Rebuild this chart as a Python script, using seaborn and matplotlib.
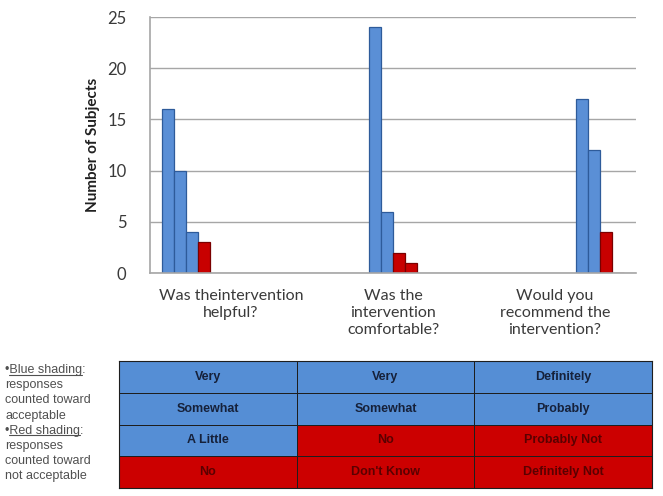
import numpy as np
import pandas as pd
import seaborn as sns
import matplotlib.pyplot as plt
from matplotlib.colors import ListedColormap
from matplotlib.lines import Line2D

# ----------------- data

questions = [
    "Was theintervention\nhelpful?",
    "Was the\nintervention\ncomfortable?",
    "Would you\nrecommend the\nintervention?",
]
response_rank = ["1", "2", "3", "4"]

counts_helpful = [16, 10, 4, 3]
counts_comfortable = [24, 6, 2, 1]
counts_recommend = [17, 12, 4, 0]

# 1 = counted toward acceptable (blue), 0 = not acceptable (red)
acceptable_helpful = [1, 1, 1, 0]
acceptable_comfortable = [1, 1, 0, 0]
acceptable_recommend = [1, 1, 0, 0]

labels_helpful = ["Very", "Somewhat", "A Little", "No"]
labels_comfortable = ["Very", "Somewhat", "No", "Don't Know"]
labels_recommend = ["Definitely", "Probably", "Probably Not", "Definitely Not"]

y_ticks = [0, 5, 10, 15, 20, 25]

BLUE = "#5A8FD6"
BLUE_EDGE = "#2E5B9A"
RED = "#C80000"
RED_EDGE = "#7A0000"
TABLE_BLUE = "#558ED5"
TABLE_RED = "#CC0000"
GRID = "#A6A6A6"
TEXT = "#3A3A3A"

# ----------------- build frames

counts = [counts_helpful, counts_comfortable, counts_recommend]
accept = [acceptable_helpful, acceptable_comfortable, acceptable_recommend]
labels = [labels_helpful, labels_comfortable, labels_recommend]

df = pd.DataFrame(
    [
        {"question": q, "rank": r, "subjects": c}
        for q, cs in zip(questions, counts)
        for r, c in zip(response_rank, cs)
    ]
)

sns.set_theme(style="white")
plt.rcParams["font.family"] = ["Lato", "DejaVu Sans"]

fig = plt.figure(figsize=(6.63, 4.96), dpi=100)

# ----------------- bar chart

ax = fig.add_axes([150 / 663, 223 / 496, 486 / 663, 256 / 496])
sns.barplot(
    data=df, x="question", y="subjects", hue="rank", order=questions,
    hue_order=response_rank, width=0.232, dodge=True, legend=False, ax=ax,
)

# colour each bar by whether that response counted as acceptable
for j, container in enumerate(ax.containers):
    for i, bar in enumerate(container):
        ok = accept[i][j]
        bar.set_facecolor(BLUE if ok else RED)
        bar.set_edgecolor(BLUE_EDGE if ok else RED_EDGE)
        bar.set_linewidth(0.9)

ax.set_xlim(-36 / 207, 2 + 36 / 207)
ax.set_ylim(0, 25)
ax.set_yticks(y_ticks)
ax.yaxis.grid(True, color=GRID, linewidth=1)
ax.set_axisbelow(True)
ax.tick_params(axis="y", length=0, pad=17, labelsize=12, labelcolor=TEXT)
ax.set_xticks([])
ax.set_xlabel("")
ax.set_ylabel("Number of Subjects", fontsize=11, fontweight="bold",
              color="#202020", labelpad=5)
for side in ["top", "right"]:
    ax.spines[side].set_visible(False)
for side in ["left", "bottom"]:
    ax.spines[side].set_color(GRID)
    ax.spines[side].set_linewidth(1.2)

for i, q in enumerate(questions):
    ax.text((i + 0.5) / 3, -16 / 256, q, transform=ax.transAxes,
            ha="center", va="top", fontsize=11.5, color=TEXT, linespacing=1.25)

# ----------------- response table

tab = fig.add_axes([119 / 663, 8 / 496, 533 / 663, 127 / 496])
acc_matrix = np.array(accept).T
lab_matrix = np.array(labels).T
sns.heatmap(
    acc_matrix, ax=tab, cmap=ListedColormap([TABLE_RED, TABLE_BLUE]),
    vmin=0, vmax=1, cbar=False, linewidths=0.7, linecolor="#1E1E1E",
    annot=lab_matrix, fmt="",
    annot_kws={"fontsize": 9, "fontweight": "bold", "family": "Liberation Sans"},
)
for txt, ok in zip(tab.texts, acc_matrix.flatten()):
    txt.set_color("#16213A" if ok else "#5A0000")
tab.set_xticks([])
tab.set_yticks([])
for side in tab.spines.values():
    side.set_visible(True)
    side.set_color("#1E1E1E")
    side.set_linewidth(0.8)

# ----------------- shading notes on the left

renderer = fig.canvas.get_renderer()
note_kw = {"fontsize": 9, "color": "#505050", "family": "Liberation Sans"}
note_lines = [
    ("•", "Blue shading", ":"),
    ("", "", "responses"),
    ("", "", "counted toward"),
    ("", "", "acceptable"),
    ("•", "Red shading", ":"),
    ("", "", "responses"),
    ("", "", "counted toward"),
    ("", "", "not acceptable"),
]
x0 = 5 / 663
for k, (bullet, key, rest) in enumerate(note_lines):
    y = (496 - 370 - 15.2 * k) / 496
    t = fig.text(x0, y, bullet + key + rest, va="center", **note_kw)
    if key:
        pre = fig.text(x0, y, bullet, va="center", **note_kw)
        upto = fig.text(x0, y, bullet + key, va="center", **note_kw)
        xa = pre.get_window_extent(renderer).x1
        xb = upto.get_window_extent(renderer).x1
        yb = t.get_window_extent(renderer).y0 + 1.5
        pre.remove()
        upto.remove()
        inv = fig.transFigure.inverted()
        (fa, fy), (fb, _) = inv.transform([(xa, yb), (xb, yb)])
        fig.add_artist(Line2D([fa, fb], [fy, fy], color="#505050", linewidth=0.8))

fig.savefig("out.png", dpi=100)
